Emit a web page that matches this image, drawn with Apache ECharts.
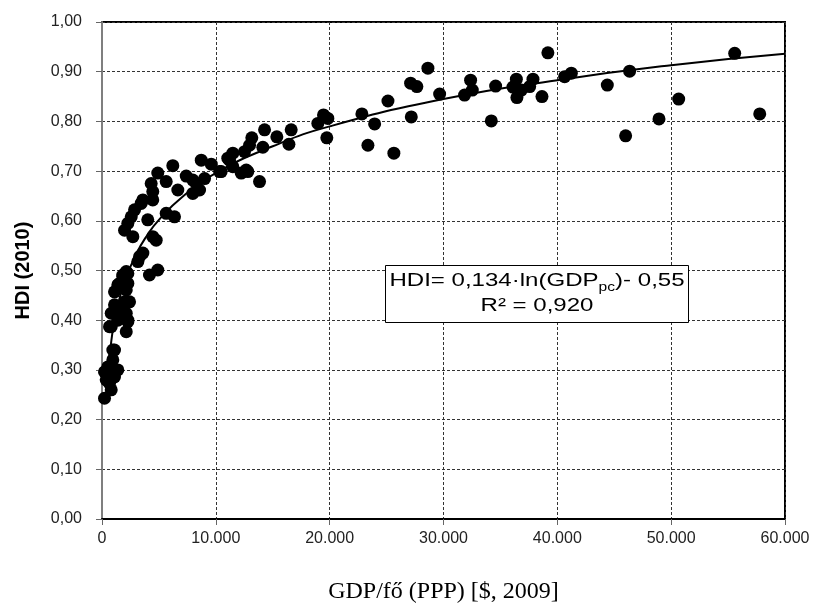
<!DOCTYPE html>
<html>
<head>
<meta charset="utf-8">
<script src="https://cdn.jsdelivr.net/npm/echarts@6/dist/echarts.min.js"></script>
<style>html,body{margin:0;padding:0;background:#fff}#c{width:816px;height:612px}</style>
</head>
<body>
<div id="c"></div>
<script>
// GDP per capita (PPP, $ 2009) values of countries
const gdpValues = [
  220, 220, 370, 510, 660, 660, 810, 810, 950, 950, 1100, 1100, 1100, 1390, 1390, 1390,
  1100, 1540, 1830, 1830, 1980, 2130, 2130, 2130, 2270, 2270, 2270, 2420, 810, 1830,
  2130, 2270, 3150, 3300, 3590, 4170, 4900, 1980, 2710, 2270, 2570, 2860, 3440, 4020,
  4460, 4460, 4760, 5640, 6370, 3590, 4320, 4460, 4900, 5640, 6220, 6660, 7400, 7980,
  7980, 8280, 8570, 8720, 9010, 9600, 10330, 10470, 11050, 11200, 11490, 11490, 12230,
  12520, 12670, 12810, 12960, 13160, 13840, 14130, 14280, 15360, 16420, 16620,
  18960, 19460, 19750, 19840, 22830, 23360, 23950, 25120, 25640, 27110, 27170, 27660,
  28630, 29660, 31850, 32380, 32530, 34200, 34580, 36100, 36400, 36450, 36840, 37570,
  37860, 38650, 39170, 40640, 41230, 44390, 46000, 46350, 48930, 50660, 55580, 57780
];
// HDI 2010 values of the same countries
const hdiValues = [
  0.243, 0.296, 0.280, 0.306, 0.273, 0.387, 0.260, 0.414, 0.320, 0.340, 0.286, 0.431, 0.457, 0.300, 0.400, 0.471,
  0.340, 0.474, 0.488, 0.417, 0.437, 0.377, 0.414, 0.498, 0.397, 0.474, 0.494, 0.437, 0.387, 0.491,
  0.461, 0.400, 0.518, 0.528, 0.535, 0.491, 0.501, 0.581, 0.568, 0.595, 0.608, 0.622, 0.635, 0.602,
  0.568, 0.642, 0.561, 0.615, 0.608, 0.642, 0.675, 0.659, 0.696, 0.679, 0.711, 0.662, 0.690, 0.682,
  0.655, 0.675, 0.662, 0.722, 0.685, 0.714, 0.699, 0.699, 0.726, 0.722, 0.736, 0.709, 0.696,
  0.739, 0.702, 0.699, 0.752, 0.767, 0.679, 0.748, 0.783, 0.769, 0.754, 0.783,
  0.796, 0.813, 0.767, 0.806, 0.815, 0.752, 0.795, 0.841, 0.736, 0.877, 0.809, 0.870,
  0.907, 0.855, 0.853, 0.883, 0.863, 0.801, 0.871, 0.869, 0.885, 0.848, 0.863, 0.870,
  0.885, 0.850, 0.938, 0.890, 0.897, 0.873, 0.771, 0.901, 0.805, 0.845, 0.937, 0.815
];
// Logarithmic trend line
const trendX = [400, 500, 750, 1000, 1500, 2000, 3000, 4000, 5000, 7000, 10000, 15000, 20000, 30000, 40000, 50000, 60000];
const trendY = [0.262, 0.293, 0.345, 0.386, 0.440, 0.478, 0.533, 0.572, 0.602, 0.647, 0.696, 0.750, 0.790, 0.845, 0.883, 0.913, 0.936];
// Axis ticks
const xTicks = [0, 10000, 20000, 30000, 40000, 50000, 60000];
const yTicks = [0, 0.1, 0.2, 0.3, 0.4, 0.5, 0.6, 0.7, 0.8, 0.9, 1.0];
const xTitle = 'GDP/fő (PPP) [$, 2009]';
const yTitle = 'HDI (2010)';
const eqLine1 = ['HDI= 0,134·ln(GDP', 'pc', ')- 0,55'];
const eqLine2 = 'R² = 0,920';

const scatterData = gdpValues.map((g, i) => [g, hdiValues[i]]);
const trendData = trendX.map((g, i) => [g, trendY[i]]);

const chart = echarts.init(document.getElementById('c'), null, {renderer: 'canvas'});
const sans = 'Liberation Sans, Arial, sans-serif';
chart.setOption({
  animation: false,
  backgroundColor: '#ffffff',
  grid: {left: 102, right: 31, top: 22, bottom: 93, show: true, borderColor: '#000', borderWidth: 2,
         backgroundColor: 'transparent', containLabel: false, outerBoundsMode: 'none'},
  xAxis: {
    type: 'value', min: xTicks[0], max: xTicks[xTicks.length - 1], interval: 10000,
    name: xTitle, nameLocation: 'middle', nameGap: 61,
    nameTextStyle: {fontFamily: 'Liberation Serif, Times New Roman, serif', fontSize: 24, color: '#000'},
    axisLine: {show: true, lineStyle: {color: '#000', width: 2}},
    axisTick: {show: true, length: 6, lineStyle: {color: '#666'}},
    axisLabel: {fontFamily: sans, fontSize: 16, color: '#222', margin: 12,
      formatter: v => v === 0 ? '0' : String(v).replace(/\B(?=(\d{3})+(?!\d))/g, '.')},
    splitLine: {show: true, lineStyle: {color: '#333', type: [3, 2], width: 1}}
  },
  yAxis: {
    type: 'value', min: yTicks[0], max: yTicks[yTicks.length - 1], interval: 0.1,
    name: yTitle, nameLocation: 'middle', nameGap: 69,
    nameTextStyle: {fontFamily: sans, fontSize: 20, fontWeight: 'bold', color: '#000'},
    axisLine: {show: true, lineStyle: {color: '#7f7f7f', width: 2}},
    axisTick: {show: true, length: 6, lineStyle: {color: '#666'}},
    axisLabel: {fontFamily: sans, fontSize: 16, color: '#222', margin: 20,
      formatter: v => v.toFixed(2).replace('.', ',')},
    splitLine: {show: true, lineStyle: {color: '#333', type: [3, 2], width: 1}}
  },
  series: [
    {type: 'scatter', data: scatterData, symbol: 'circle', symbolSize: 13,
     itemStyle: {color: '#000', opacity: 1}, z: 3},
    {type: 'line', data: trendData, smooth: true, showSymbol: false, symbol: 'none',
     lineStyle: {color: '#000', width: 2}, z: 4}
  ],
  graphic: [
    {type: 'group', left: 385, top: 265, z: 10, children: [
      {type: 'rect', shape: {x: 0, y: 0, width: 303, height: 57},
       style: {fill: '#fff', stroke: '#000', lineWidth: 1}, z: 10},
      {type: 'text', x: 151.5, y: 3, scaleX: 1.3, z: 11,
       style: {
         x: 0, y: 0,
         text: '{a|' + eqLine1[0] + '}{s|' + eqLine1[1] + '}{a|' + eqLine1[2] + '}\n{a|' + eqLine2 + '}',
         align: 'center', verticalAlign: 'top',
         rich: {
           a: {fontFamily: sans, fontSize: 18.5, fill: '#000', lineHeight: 25},
           s: {fontFamily: sans, fontSize: 12, fill: '#000', lineHeight: 25, verticalAlign: 'bottom'}
         }
       }}
    ]}
  ]
});
</script>
</body>
</html>
